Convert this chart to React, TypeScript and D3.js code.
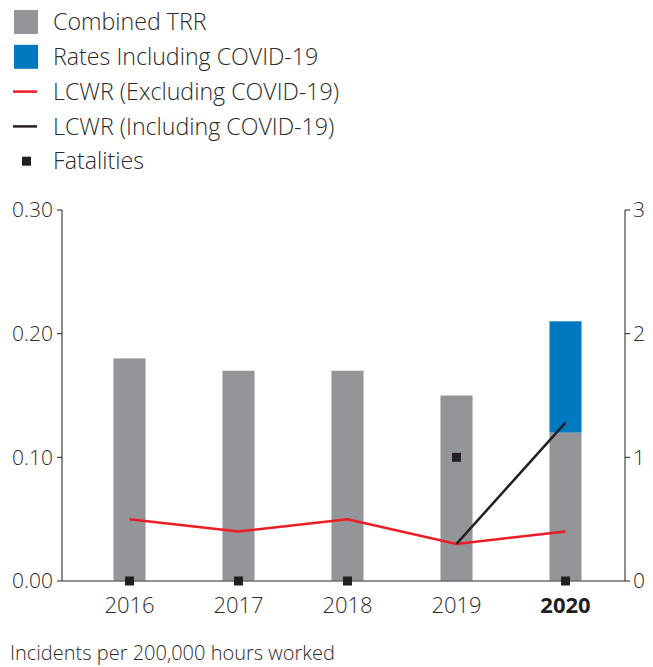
import React from "react";
import * as d3 from "d3";

const years = ["2016", "2017", "2018", "2019", "2020"];
const combinedTRR = [0.18, 0.17, 0.17, 0.15, 0.12];
const covidRates = [0, 0, 0, 0, 0.09];
const lcwrExcl = [0.05, 0.04, 0.05, 0.03, 0.04];
const lcwrIncl: (number | null)[] = [null, null, null, 0.03, 0.128];
const fatalities = [0, 0, 0, 1, 0];
const leftTicks = [0, 0.1, 0.2, 0.3];
const rightTicks = [0, 1, 2, 3];
const legendItems = [
  { label: "Combined TRR", kind: "rect", color: "#939598" },
  { label: "Rates Including COVID-19", kind: "rect", color: "#0079c1" },
  { label: "LCWR (Excluding COVID-19)", kind: "line", color: "#ed1c24" },
  { label: "LCWR (Including COVID-19)", kind: "line", color: "#231f20" },
  { label: "Fatalities", kind: "square", color: "#231f20" },
];
const footnote = "Incidents per 200,000 hours worked";

const FONT = "'Open Sans', 'Noto Sans', sans-serif";
const TEXT = "#2b2b2b";

export default function App() {
  const W = 653, H = 667;
  const axL = 62, axR = 625;
  const y = d3.scaleLinear().domain([0, 0.3]).range([581, 210]);
  const yR = d3.scaleLinear().domain([0, 3]).range([581, 210]);
  const x = d3.scaleBand<string>().domain(years).range([75, 620]).paddingInner(0.706).paddingOuter(0.353);
  const cx = (yr: string) => (x(yr) as number) + x.bandwidth() / 2;

  const redLine = d3.line<number>().x((_, i) => cx(years[i])).y((d) => y(d))(lcwrExcl) as string;
  const blackLine = d3
    .line<number | null>()
    .defined((d) => d !== null)
    .x((_, i) => cx(years[i]))
    .y((d) => y(d as number))(lcwrIncl) as string;

  const sq = 9;

  return (
    <svg width={W} height={H} style={{ display: "block", position: "absolute", left: 0, top: 0 }} fontFamily={FONT} fontWeight={300}>
      {/* legend */}
      {legendItems.map((it, i) => {
        const cy = 22 + i * 34.8;
        return (
          <g key={it.label}>
            {it.kind === "rect" && <rect x={14} y={cy - 12} width={24} height={24} fill={it.color} />}
            {it.kind === "line" && <line x1={13} x2={37} y1={cy} y2={cy} stroke={it.color} strokeWidth={2.5} />}
            {it.kind === "square" && <rect x={22} y={cy - 4.5} width={9} height={9} fill={it.color} />}
            <text x={53} y={cy} dy="0.35em" fontSize={23.2} fill={TEXT}>{it.label}</text>
          </g>
        );
      })}

      {/* bars */}
      {years.map((yr, i) => (
        <g key={yr}>
          <rect x={x(yr)} y={y(combinedTRR[i])} width={x.bandwidth()} height={y(0) - y(combinedTRR[i])} fill="#939598" />
          {covidRates[i] > 0 && (
            <rect
              x={x(yr)}
              y={y(combinedTRR[i] + covidRates[i])}
              width={x.bandwidth()}
              height={y(combinedTRR[i]) - y(combinedTRR[i] + covidRates[i])}
              fill="#0079c1"
            />
          )}
        </g>
      ))}

      {/* baseline */}
      <line x1={axL} x2={axR} y1={y(0)} y2={y(0)} stroke="#6d6e71" strokeWidth={1.5} />

      {/* left axis */}
      <line x1={axL} x2={axL} y1={y(0.3)} y2={y(0)} stroke="#231f20" strokeWidth={1} />
      {leftTicks.map((t) => (
        <g key={t}>
          <line x1={axL - 5} x2={axL} y1={y(t)} y2={y(t)} stroke="#231f20" strokeWidth={1} />
          <text x={axL - 9} y={y(t)} dy="0.35em" textAnchor="end" fontSize={21} fill={TEXT}>
            {d3.format(".2f")(t)}
          </text>
        </g>
      ))}

      {/* right axis */}
      <line x1={axR} x2={axR} y1={yR(3)} y2={yR(0)} stroke="#231f20" strokeWidth={1} />
      {rightTicks.map((t) => (
        <g key={t}>
          <line x1={axR} x2={axR + 5} y1={yR(t)} y2={yR(t)} stroke="#231f20" strokeWidth={1} />
          <text x={axR + 8} y={yR(t)} dy="0.35em" textAnchor="start" fontSize={21} fill={TEXT}>
            {t}
          </text>
        </g>
      ))}

      {/* lines */}
      <path d={redLine} fill="none" stroke="#ed1c24" strokeWidth={2.5} />
      <path d={blackLine} fill="none" stroke="#231f20" strokeWidth={2.5} />

      {/* fatalities */}
      {years.map((yr, i) => (
        <rect key={yr} x={cx(yr) - sq / 2} y={yR(fatalities[i]) - sq / 2} width={sq} height={sq} fill="#231f20" />
      ))}

      {/* x labels */}
      {years.map((yr, i) => (
        <text
          key={yr}
          x={cx(yr)}
          y={613}
          textAnchor="middle"
          fontSize={22}
          fontWeight={i === years.length - 1 ? 700 : 300}
          fill={i === years.length - 1 ? "#231f20" : TEXT}
        >
          {yr}
        </text>
      ))}

      <text x={10} y={660} fontSize={20} fill={TEXT}>{footnote}</text>
    </svg>
  );
}
